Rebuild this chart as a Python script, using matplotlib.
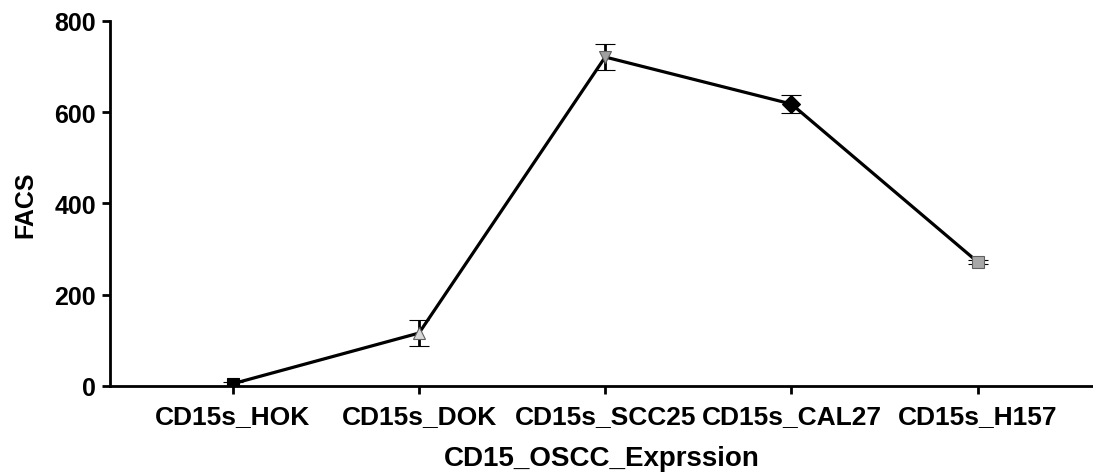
import matplotlib.pyplot as plt
import numpy as np

plt.rcParams['font.family'] = ['Liberation Sans', 'DejaVu Sans']
plt.rcParams['font.weight'] = 'bold'

# data
categories = ['CD15s_HOK', 'CD15s_DOK', 'CD15s_SCC25', 'CD15s_CAL27', 'CD15s_H157']
facs = [5, 116, 721, 618, 272]
facs_err = [4, 29, 29, 20, 4]
markers = ['s', '^', 'v', 'D', 's']
face_colors = ['black', '#d8d8d8', '#a0a0a0', 'black', '#a8a8a8']

fig = plt.figure(figsize=(10.93, 4.77), dpi=100)
ax = fig.add_axes([0.1006, 0.1887, 0.8994, 0.7652])

x = np.arange(len(categories))
ax.plot(x, facs, color='black', lw=2.3, zorder=2)
for i in range(len(categories)):
    ax.errorbar(x[i], facs[i], yerr=facs_err[i], fmt=markers[i], ms=9,
                mfc=face_colors[i], mec='#606060' if face_colors[i] != 'black' else 'black',
                mew=0.8, ecolor='black', elinewidth=2, capsize=7, capthick=2.5, zorder=3)

ax.set_xlim(-0.66, 4.62)
ax.set_ylim(0, 800)
ax.set_yticks([0, 200, 400, 600, 800])
ax.set_xticks(x)
ax.set_xticklabels(categories)
ax.tick_params(axis='y', labelsize=18, width=2, length=6, pad=4)
ax.tick_params(axis='x', labelsize=19, width=2, length=6, pad=7)
ax.spines['top'].set_visible(False)
ax.spines['right'].set_visible(False)
ax.spines['left'].set_linewidth(2)
ax.spines['bottom'].set_linewidth(2)
ax.set_xlabel('CD15_OSCC_Exprssion', fontsize=20, fontweight='bold', labelpad=12)
ax.set_ylabel('FACS', fontsize=18, fontweight='bold', labelpad=12)

fig.savefig('out.png', dpi=100)
